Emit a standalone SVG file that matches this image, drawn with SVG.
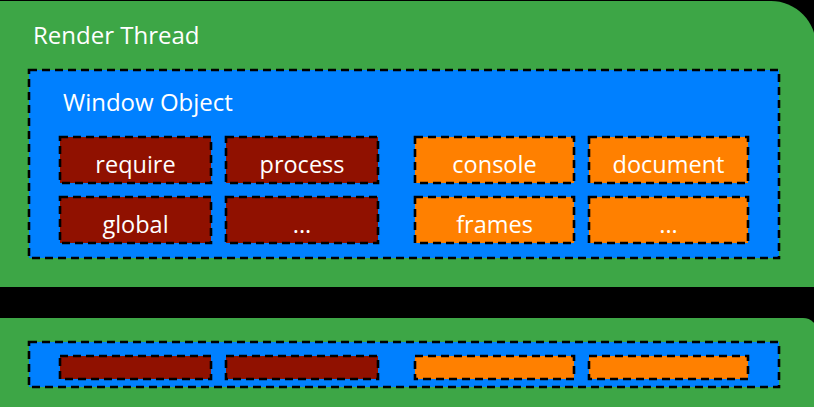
<svg xmlns="http://www.w3.org/2000/svg" width="814" height="407" viewBox="0 0 814 407">
<style>
.green{fill:#3da646}
.win{fill:#0080ff;stroke:#000;stroke-width:2.6;stroke-dasharray:8 5}
.red{fill:#901100;stroke:#000;stroke-width:2.6;stroke-dasharray:8 5}
.org{fill:#ff8000;stroke:#000;stroke-width:2.6;stroke-dasharray:8 5}
text{font-family:"Open Sans","Noto Sans",sans-serif;fill:#fff}
.t{font-size:23.5px;text-anchor:middle}
.h{font-size:24px}
</style>
<rect x="0" y="0" width="814" height="407" fill="#000"/>
<g id="render-thread">
<path class="green" d="M-10 1 H771 A45 45 0 0 1 816 46 V287 H-10 Z"/>
<text class="h" x="33" y="44">Render Thread</text>
</g>
<g id="window-object">
<rect class="win" x="29" y="70" width="750" height="188"/>
<text class="h" x="63" y="111">Window Object</text>
</g>
<g id="require"><rect class="red" x="60" y="137" width="151" height="46"/><text class="t" x="135.5" y="173">require</text></g>
<g id="process"><rect class="red" x="226" y="137" width="152" height="46"/><text class="t" x="302" y="173">process</text></g>
<g id="global"><rect class="red" x="60" y="197" width="151" height="46"/><text class="t" x="135.5" y="233">global</text></g>
<g id="etc1"><rect class="red" x="226" y="197" width="152" height="46"/><text class="t" x="302" y="233">...</text></g>
<g id="console"><rect class="org" x="415" y="137" width="159" height="46"/><text class="t" x="494.5" y="173">console</text></g>
<g id="document"><rect class="org" x="589" y="137" width="159" height="46"/><text class="t" x="668.5" y="173">document</text></g>
<g id="frames"><rect class="org" x="415" y="197" width="159" height="46"/><text class="t" x="494.5" y="233">frames</text></g>
<g id="etc2"><rect class="org" x="589" y="197" width="159" height="46"/><text class="t" x="668.5" y="233">...</text></g>
<g id="render-thread-2">
<path class="green" d="M-10 318 H803 A15 15 0 0 1 818 333 V410 H-10 Z"/>
</g>
<g id="window-object-2">
<rect class="win" x="29" y="342" width="750" height="45"/>
</g>
<g id="b1"><rect class="red" x="60" y="356" width="151" height="23"/></g>
<g id="b2"><rect class="red" x="226" y="356" width="152" height="23"/></g>
<g id="b3"><rect class="org" x="415" y="356" width="159" height="23"/></g>
<g id="b4"><rect class="org" x="589" y="356" width="159" height="23"/></g>
<g id="connectors"></g>
</svg>
